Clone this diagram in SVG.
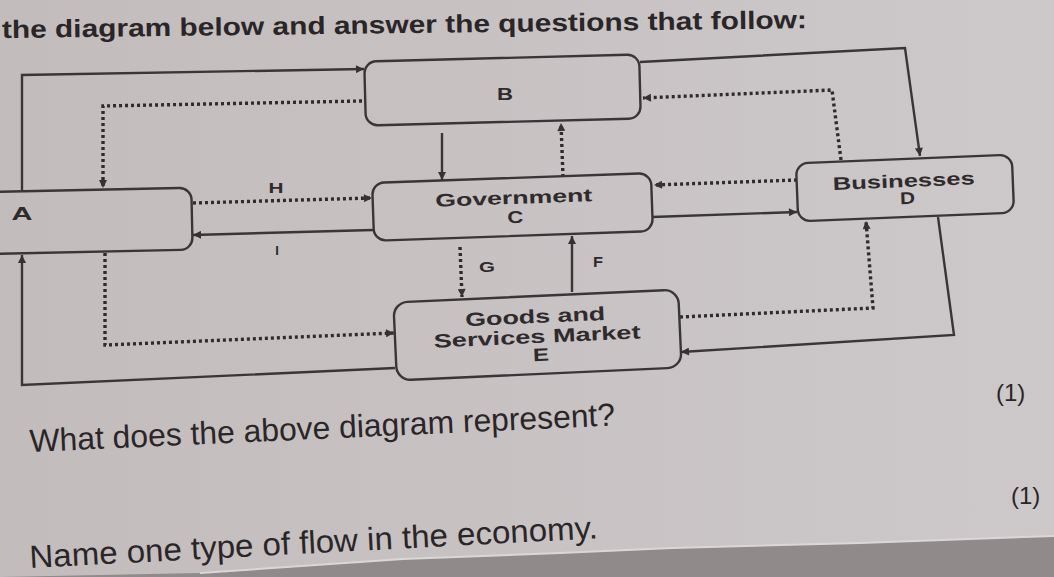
<svg xmlns="http://www.w3.org/2000/svg" width="1054" height="577" viewBox="0 0 1054 577">
<defs>
<linearGradient id="paper" x1="0" y1="0" x2="1" y2="0">
<stop offset="0" stop-color="#c2bcbd"/>
<stop offset="1" stop-color="#cdc8c9"/>
</linearGradient>
<marker id="ah" viewBox="0 0 10 10" refX="10" refY="5" markerWidth="9" markerHeight="8" markerUnits="userSpaceOnUse" orient="auto">
<path d="M0,0 L10,5 L0,10 z" fill="#363132"/>
</marker>
<style>
.box{fill:none;stroke:#3a3536;stroke-width:2.4}
.s{fill:none;stroke:#3a3536;stroke-width:2.4;marker-end:url(#ah)}
.d{fill:none;stroke:#2f2a2b;stroke-width:3.4;stroke-dasharray:3 3;marker-end:url(#ah)}
.lb{font-family:"Liberation Sans",Arial,sans-serif;font-weight:bold;fill:#2f2b2c;text-anchor:middle}
.q{font-family:"Liberation Sans",Arial,sans-serif;fill:#2a2627}
</style>
</defs>
<rect width="1054" height="577" fill="url(#paper)"/>
<text class="q" x="2" y="38" font-size="25" font-weight="bold" textLength="805" lengthAdjust="spacingAndGlyphs" transform="rotate(-0.7 2 38)">the diagram below and answer the questions that follow:</text>

<g id="connectors">
<path class="s" d="M22,192 L22,75 L364,69"/>
<path class="d" d="M362,101 L103,106 L103,188"/>
<path class="s" d="M442,133 L442,180"/>
<path class="d" d="M563,177 L561,123"/>
<path class="s" d="M640,62 L905,48 L920,156"/>
<path class="d" d="M841,160 L832,90 L643,98"/>
<path class="d" d="M797,180 L654,185"/>
<path class="s" d="M652,217 L797,212"/>
<path class="d" d="M193,203 L372,198"/>
<path class="s" d="M373,230 L193,235"/>
<path class="d" d="M460,247 L462,297"/>
<path class="s" d="M572,292 L572,236"/>
<path class="d" d="M105,253 L105,345 L394,333"/>
<path class="s" d="M395,368 L22,385 L22,255"/>
<path class="d" d="M680,317 L873,308 L866,221"/>
<path class="s" d="M938,217 L954,335 L681,352"/>
</g>

<g id="labels">
<text class="lb" x="276" y="193" font-size="14" textLength="15" lengthAdjust="spacingAndGlyphs">H</text>
<text class="lb" x="277" y="255" font-size="13" font-weight="normal">I</text>
<text class="lb" x="487" y="272" font-size="15" textLength="16" lengthAdjust="spacingAndGlyphs">G</text>
<text class="lb" x="598" y="267" font-size="15" textLength="10" lengthAdjust="spacingAndGlyphs">F</text>
</g>

<g id="nodeA">
<rect class="box" x="-30" y="190" width="222" height="62" rx="12" transform="rotate(-1.2 81 221)"/>
<text class="lb" x="22" y="220" font-size="18" textLength="21" lengthAdjust="spacingAndGlyphs">A</text>
</g>
<g id="nodeB">
<rect class="box" x="365" y="58" width="275" height="64" rx="12" transform="rotate(-1.5 502 90)"/>
<text class="lb" x="505" y="100" font-size="17" textLength="16" lengthAdjust="spacingAndGlyphs">B</text>
</g>
<g id="nodeC" transform="rotate(-2 512 207)">
<rect class="box" x="373" y="178" width="279" height="58" rx="12"/>
<text class="lb" x="514" y="204" font-size="18" textLength="157" lengthAdjust="spacingAndGlyphs">Government</text>
<text class="lb" x="515" y="223" font-size="17" textLength="16" lengthAdjust="spacingAndGlyphs">C</text>
</g>
<g id="nodeD" transform="rotate(-2.3 905 188)">
<rect class="box" x="797" y="159" width="216" height="58" rx="12"/>
<text class="lb" x="904" y="187" font-size="18" textLength="142" lengthAdjust="spacingAndGlyphs">Businesses</text>
<text class="lb" x="907" y="204" font-size="17" textLength="15" lengthAdjust="spacingAndGlyphs">D</text>
</g>
<g id="nodeE" transform="rotate(-2.6 537 335)">
<rect class="box" x="395" y="296" width="285" height="78" rx="14"/>
<text class="lb" x="536" y="323" font-size="19" textLength="140" lengthAdjust="spacingAndGlyphs">Goods and</text>
<text class="lb" x="537" y="343" font-size="19" textLength="207" lengthAdjust="spacingAndGlyphs">Services Market</text>
<text class="lb" x="540" y="361" font-size="18" textLength="16" lengthAdjust="spacingAndGlyphs">E</text>
</g>

<text class="q" x="996" y="401" font-size="24">(1)</text>
<text class="q" x="30" y="452" font-size="32" textLength="586" lengthAdjust="spacingAndGlyphs" transform="rotate(-2.6 30 452)">What does the above diagram represent?</text>
<text class="q" x="1011" y="504" font-size="24">(1)</text>
<text class="q" x="30" y="568" font-size="32" textLength="569" lengthAdjust="spacingAndGlyphs" transform="rotate(-3 30 568)">Name one type of flow in the economy.</text>

<polygon points="0,577 200,573 403,559 560,553 672,548 860,543 1054,536 1054,577" fill="#908a8b"/>
<polyline points="200,573 403,559 560,553 672,548 860,543 1054,536" fill="none" stroke="#dcd7d7" stroke-width="2"/>
</svg>
